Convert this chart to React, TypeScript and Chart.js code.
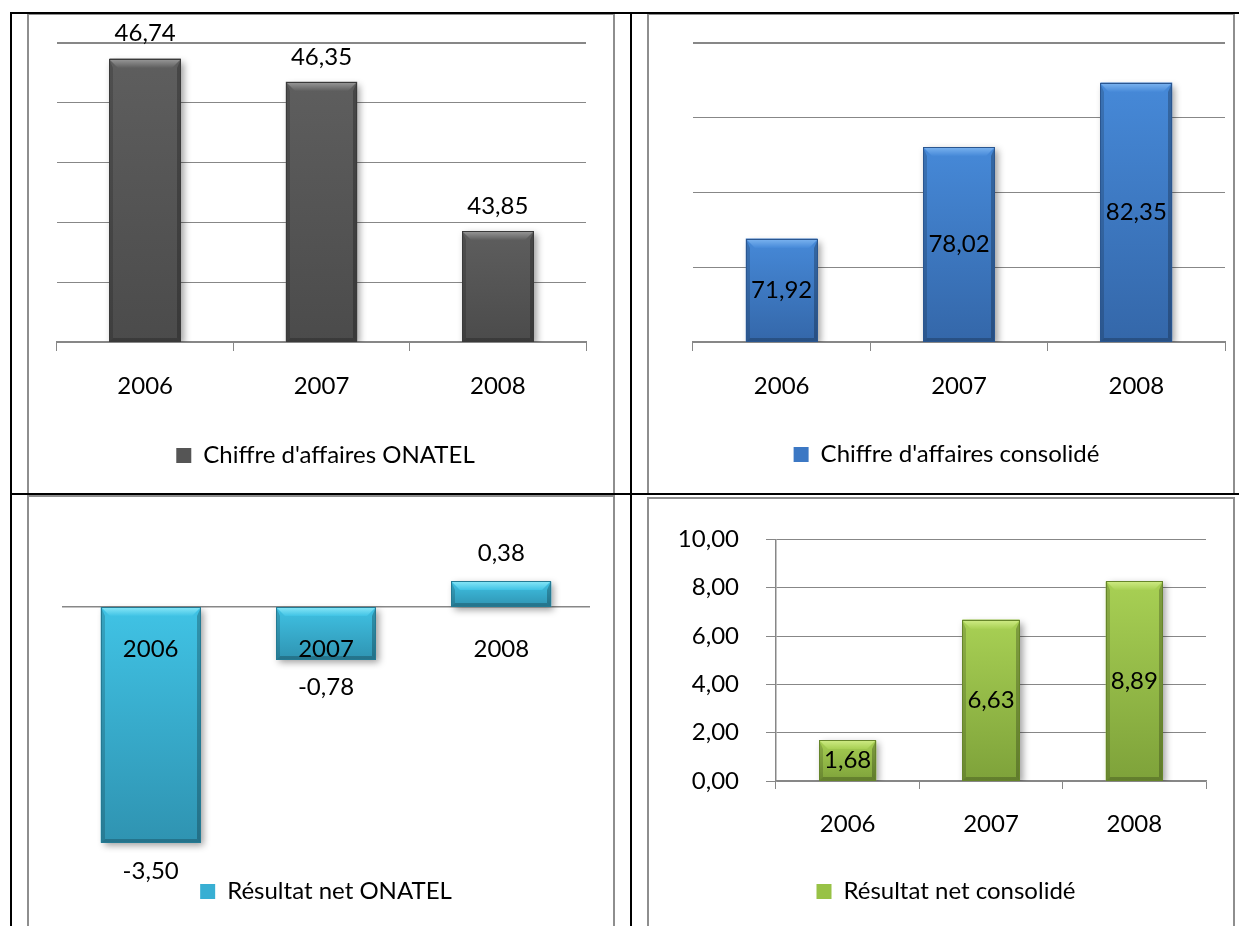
import React, { useEffect, useRef } from 'react';
import { Chart, registerables } from 'chart.js';

Chart.register(...registerables);

// ---------- data ----------
const years = ['2006', '2007', '2008'];

const caOnatel = [46.74, 46.35, 43.85];
const caOnatelLabels = ['46,74', '46,35', '43,85'];

const caConsolide = [71.92, 78.02, 82.35];
const caConsolideLabels = ['71,92', '78,02', '82,35'];

const rnOnatel = [-3.5, -0.78, 0.38];
const rnOnatelLabels = ['-3,50', '-0,78', '0,38'];

const rnConsolide = [1.68, 6.68, 8.26];
const rnConsolideLabels = ['1,68', '6,63', '8,89'];

const legendNames = [
  "Chiffre d'affaires ONATEL",
  "Chiffre d'affaires consolidé",
  'Résultat net ONATEL',
  'Résultat net consolidé',
];

// ---------- style ----------
const FONT = "Lato, 'Open Sans', sans-serif";
const FS = 24;
const GRID = '#878787';

const bevelPlugin = {
  id: 'bevel',
  beforeDatasetsDraw(chart: any) {
    const ctx = chart.ctx;
    ctx.save();
    ctx.shadowColor = 'rgba(0,0,0,0.38)';
    ctx.shadowBlur = 7;
    ctx.shadowOffsetX = 3;
    ctx.shadowOffsetY = 3;
  },
  afterDatasetsDraw(chart: any, _args: any, opts: any) {
    const ctx = chart.ctx;
    ctx.restore();
    const meta = chart.getDatasetMeta(0);
    meta.data.forEach((bar: any) => {
      const p = bar.getProps(['x', 'y', 'base', 'width'], true);
      const L = Math.round(p.x - p.width / 2);
      const R = Math.round(p.x + p.width / 2);
      const T = Math.round(Math.min(p.y, p.base));
      const B = Math.round(Math.max(p.y, p.base));
      const w = R - L;
      const h = B - T;
      if (h <= 0) return;
      ctx.save();
      const g = ctx.createLinearGradient(0, T, 0, B);
      g.addColorStop(0, opts.top);
      g.addColorStop(1, opts.bottom);
      ctx.fillStyle = g;
      ctx.fillRect(L, T, w, h);
      const b = Math.min(9, h / 2);
      const s = Math.min(4, w / 4);
      // top bevel
      ctx.beginPath();
      ctx.moveTo(L, T);
      ctx.lineTo(R, T);
      ctx.lineTo(R - b, T + b);
      ctx.lineTo(L + b, T + b);
      ctx.closePath();
      const gt = ctx.createLinearGradient(0, T, 0, T + b);
      gt.addColorStop(0, opts.light);
      gt.addColorStop(1, opts.top);
      ctx.fillStyle = gt;
      ctx.fill();
      // left bevel
      ctx.beginPath();
      ctx.moveTo(L, T);
      ctx.lineTo(L + s, T + b);
      ctx.lineTo(L + s, B - s);
      ctx.lineTo(L, B);
      ctx.closePath();
      ctx.fillStyle = 'rgba(0,0,0,0.16)';
      ctx.fill();
      // right bevel
      ctx.beginPath();
      ctx.moveTo(R, T);
      ctx.lineTo(R - s, T + b);
      ctx.lineTo(R - s, B - s);
      ctx.lineTo(R, B);
      ctx.closePath();
      ctx.fillStyle = 'rgba(0,0,0,0.24)';
      ctx.fill();
      // bottom bevel
      ctx.beginPath();
      ctx.moveTo(L, B);
      ctx.lineTo(R, B);
      ctx.lineTo(R - s, B - s);
      ctx.lineTo(L + s, B - s);
      ctx.closePath();
      ctx.fillStyle = 'rgba(0,0,0,0.22)';
      ctx.fill();
      ctx.strokeStyle = opts.edge;
      ctx.lineWidth = 1;
      ctx.strokeRect(L + 0.5, T + 0.5, w - 1, h - 1);
      ctx.restore();
    });
  },
};

const valueLabelPlugin = {
  id: 'valueLabels',
  afterDatasetsDraw(chart: any, _args: any, opts: any) {
    const ctx = chart.ctx;
    const meta = chart.getDatasetMeta(0);
    const values = chart.data.datasets[0].data;
    ctx.save();
    ctx.font = `${FS}px ${FONT}`;
    ctx.fillStyle = '#000';
    ctx.textAlign = 'center';
    ctx.textBaseline = 'middle';
    meta.data.forEach((bar: any, i: number) => {
      const p = bar.getProps(['x', 'y', 'base'], true);
      let ty: number;
      if (opts.mode === 'center') ty = (p.y + p.base) / 2;
      else ty = values[i] >= 0 ? p.y - opts.offset : p.y + opts.offset;
      ctx.fillText(opts.labels[i], p.x, ty);
    });
    ctx.restore();
  },
};

type Colors = { base: string; top: string; bottom: string; light: string; edge: string };

const GRAY: Colors = { base: '#555555', top: '#5e5e5e', bottom: '#4b4b4b', light: '#9a9a9a', edge: '#3a3a3a' };
const BLUE: Colors = { base: '#3c78c4', top: '#4689d8', bottom: '#3467a9', light: '#7cb4f0', edge: '#2a5690' };
const CYAN: Colors = { base: '#38afd3', top: '#40c3e5', bottom: '#2f93b1', light: '#8ae8f8', edge: '#247a93' };
const GREEN: Colors = { base: '#98c246', top: '#a8d054', bottom: '#7ea23a', light: '#d0ec86', edge: '#66852a' };

function spacerAxis(width: number) {
  return {
    position: 'right',
    display: true,
    grid: { display: false, drawTicks: false },
    ticks: { display: false },
    border: { display: false },
    afterFit: (s: any) => {
      s.width = width;
    },
  };
}

function baseConfig(opts: {
  values: number[];
  labels: string[];
  name: string;
  colors: Colors;
  padding: any;
  mode: 'center' | 'outside';
  offset?: number;
  barPct: number;
  legendPad: number;
  base?: number;
  scales: any;
}) {
  const ds: any = {
    label: opts.name,
    data: opts.values,
    backgroundColor: opts.colors.base,
    borderColor: opts.colors.edge,
    borderWidth: 0,
    categoryPercentage: 1,
    barPercentage: opts.barPct,
  };
  if (opts.base !== undefined) ds.base = opts.base;
  return {
    type: 'bar',
    data: {
      labels: years,
      datasets: [ds],
    },
    options: {
      responsive: false,
      animation: false,
      layout: { padding: opts.padding },
      plugins: {
        legend: {
          position: 'bottom',
          labels: {
            boxWidth: 15,
            boxHeight: 15,
            padding: opts.legendPad,
            color: '#000',
            font: { size: FS, family: FONT },
          },
        },
        tooltip: { enabled: false },
        bevel: opts.colors,
        valueLabels: { labels: opts.labels, mode: opts.mode, offset: opts.offset ?? 0 },
      },
      scales: opts.scales,
    },
    plugins: [bevelPlugin, valueLabelPlugin],
  };
}

const tickFont = { size: FS, family: FONT };

function catAxis(height: number, padding: number) {
  return {
    offset: true,
    grid: { display: true, drawOnChartArea: false, drawTicks: true, tickLength: 9, offset: true, color: GRID, lineWidth: 1 },
    border: { display: true, color: GRID, width: 2 },
    ticks: { color: '#000', font: tickFont, padding, maxRotation: 0 },
    afterFit: (s: any) => {
      s.height = height;
    },
  };
}

function hiddenValueAxis(min: number, max: number, step: number, width: number) {
  return {
    min,
    max,
    ticks: { display: false, stepSize: step },
    grid: { color: GRID, drawTicks: false, lineWidth: (c: any) => (c.tick && c.tick.value === max ? 2 : 1) },
    border: { display: false },
    afterFit: (s: any) => {
      s.width = width;
    },
  };
}

const onatelMin = 42;
const onatelMax = 47;
const consolideMin = 65;
const consolideMax = 85;

const configs = [
  baseConfig({
    values: caOnatel,
    labels: caOnatelLabels,
    name: legendNames[0],
    colors: GRAY,
    padding: { left: 29, right: 29, top: 29, bottom: 16.5 },
    mode: 'outside',
    offset: 25,
    barPct: 0.405,
    legendPad: 10,
    base: onatelMin,
    scales: {
      x: catAxis(91.5, 21),
      y: hiddenValueAxis(onatelMin, onatelMax, 1, 0),
      yr: spacerAxis(8),
    },
  }),
  baseConfig({
    values: caConsolide,
    labels: caConsolideLabels,
    name: legendNames[1],
    colors: BLUE,
    padding: { left: 20, right: 10, top: 29, bottom: 17.5 },
    mode: 'center',
    barPct: 0.405,
    legendPad: 10,
    base: consolideMin,
    scales: { x: catAxis(90.5, 21), y: hiddenValueAxis(consolideMin, consolideMax, 5, 25) },
  }),
  baseConfig({
    values: rnOnatel,
    labels: rnOnatelLabels,
    name: legendNames[2],
    colors: CYAN,
    padding: { left: 35, right: 33, top: 43.6, bottom: 12.5 },
    mode: 'outside',
    offset: 28,
    barPct: 0.57,
    legendPad: 3,
    scales: {
      x: {
        position: { y: 0 },
        grid: { display: false, drawTicks: false },
        border: { display: true, color: GRID, width: 1.5 },
        ticks: { color: '#000', font: tickFont, padding: 28, maxRotation: 0, z: 1 },
      },
      y: { display: false, min: -4, max: 1 },
    },
  }),
  baseConfig({
    values: rnConsolide,
    labels: rnConsolideLabels,
    name: legendNames[3],
    colors: GREEN,
    padding: { left: 19, right: 20, top: 30, bottom: 12.5 },
    mode: 'center',
    barPct: 0.4,
    legendPad: 10,
    scales: {
      x: {
        offset: true,
        grid: { display: true, drawOnChartArea: false, drawTicks: true, tickLength: 8, offset: true, color: GRID },
        border: { display: true, color: GRID, width: 1.5 },
        ticks: { color: '#000', font: tickFont, padding: 21, maxRotation: 0 },
        afterFit: (s: any) => {
          s.height = 88.5;
        },
      },
      y: {
        min: 0,
        max: 10,
        ticks: {
          stepSize: 2,
          color: '#000',
          font: tickFont,
          padding: 27,
          callback: (v: any) => Number(v).toFixed(2).replace('.', ','),
        },
        grid: { color: GRID, drawTicks: true, tickLength: 10 },
        border: { display: true, color: GRID, width: 1.5 },
        afterFit: (s: any) => {
          s.width = 99;
        },
      },
      yr: spacerAxis(9),
    },
  }),
];

const canvasBoxes = [
  { left: 28, top: 14, width: 595, height: 480 },
  { left: 648, top: 14, width: 587, height: 480 },
  { left: 28, top: 496, width: 594, height: 430 },
  { left: 658, top: 498, width: 577, height: 428 },
];

const frames = [
  { left: 27, top: 13, width: 588, height: 482 },
  { left: 647, top: 13, width: 588, height: 482 },
  { left: 27, top: 495, width: 588, height: 440 },
  { left: 647, top: 497, width: 588, height: 440 },
];

function ChartCanvas({ idx }: { idx: number }) {
  const ref = useRef<HTMLCanvasElement>(null);
  useEffect(() => {
    if (!ref.current) return;
    const chart = new Chart(ref.current, configs[idx] as any);
    return () => chart.destroy();
  }, [idx]);
  const b = canvasBoxes[idx];
  return (
    <canvas
      ref={ref}
      width={b.width}
      height={b.height}
      style={{ position: 'absolute', left: b.left, top: b.top, width: b.width, height: b.height }}
    />
  );
}

export default function App() {
  const black = '#000';
  return (
    <div
      style={{
        position: 'absolute',
        left: 0,
        top: 0,
        width: 1239,
        height: 926,
        overflow: 'hidden',
        background: '#fff',
      }}
    >
      {[0, 1, 2, 3].map((i) => (
        <ChartCanvas key={i} idx={i} />
      ))}
      {frames.map((f, i) => (
        <div
          key={'f' + i}
          style={{
            position: 'absolute',
            left: f.left,
            top: f.top,
            width: f.width,
            height: f.height,
            border: '2px solid #8e8e8e',
            boxSizing: 'border-box',
            pointerEvents: 'none',
          }}
        />
      ))}
      <div style={{ position: 'absolute', left: 10, top: 12, width: 1229, height: 2, background: black }} />
      <div style={{ position: 'absolute', left: 10, top: 493, width: 1229, height: 2, background: black }} />
      <div style={{ position: 'absolute', left: 10, top: 12, width: 2, height: 914, background: black }} />
      <div style={{ position: 'absolute', left: 630, top: 12, width: 2, height: 914, background: black }} />
    </div>
  );
}
